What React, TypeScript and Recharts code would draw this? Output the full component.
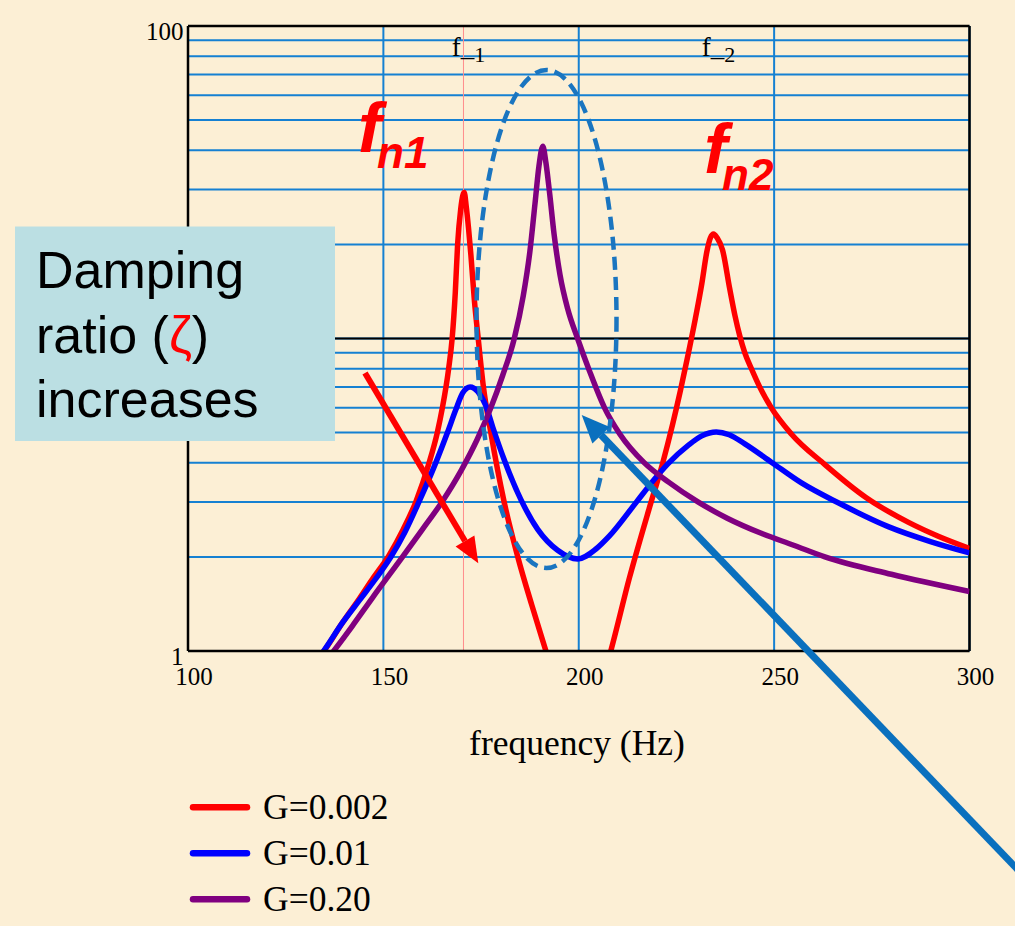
import React from 'react';
import { LineChart, Line, XAxis, YAxis, CartesianGrid, ReferenceLine, Legend } from 'recharts';

// ---------- data ----------
const xTicks = [100, 150, 200, 250, 300];
const yTicks = [1, 2, 3, 4, 5, 6, 7, 8, 9, 10, 20, 30, 40, 50, 60, 70, 80, 90, 100];
const yTickLabels = [1, 100];

const seriesNames = ['G=0.002', 'G=0.01', 'G=0.20'];
const seriesColors = ['#ff0000', '#0000ff', '#800080'];

// G=0.002
const redFreq = [132, 134.8, 139.5, 144, 147.5, 151.4, 155, 158.3, 161.7, 163.8, 165.1, 166.7, 167.6, 168.4, 169.0, 169.8, 170.3, 170.7, 171.2, 171.8, 172.4, 173.3, 174.2, 175.6, 177.5, 180.9, 184.4, 188, 191.6, 194,
  206, 208.2, 213, 218, 221.5, 224, 226, 228, 229.8, 231.5, 232.8, 233.7, 234.5, 235.4, 236.8, 238.6, 240, 241.2, 242.5, 244.2, 246.3, 249.3, 254.4, 263, 273.5, 284.4, 292, 300];
const redAmp = [0.9, 1.0, 1.23, 1.48, 1.72, 2.02, 2.44, 3, 4, 5, 6, 8, 10, 14, 20, 26, 28.6, 29.3, 26.5, 22.5, 18.5, 13.2, 10.2, 7, 5, 3, 2, 1.4, 1, 0.8,
  0.8, 1, 1.72, 2.85, 4, 5.3, 6.8, 8.9, 11.5, 15, 19, 21, 21.6, 21, 19.2, 14.5, 11.8, 10.2, 9, 8, 7, 6, 4.95, 3.95, 3.1, 2.58, 2.33, 2.13];

// G=0.01
const blueFreq = [132, 134.7, 139.5, 144, 148, 151.9, 155.5, 159.1, 163.4, 166.4, 168.5, 170.3, 172.2, 174.2, 176.2, 178, 180.9, 185.2, 189.5, 194.6, 199.7, 204.4, 207.8, 214.7, 219, 222.8, 228, 231.5, 235.2, 238.5, 242.5, 249.3, 257, 266.4, 279.2, 290, 300];
const blueAmp = [0.9, 1, 1.23, 1.46, 1.7, 2, 2.4, 3, 4, 5, 5.9, 6.7, 7.0, 6.75, 6.1, 5.2, 4.1, 3.05, 2.45, 2.1, 1.97, 2.12, 2.33, 2.99, 3.5, 3.97, 4.55, 4.88, 5.02, 4.92, 4.6, 4.02, 3.45, 2.98, 2.5, 2.24, 2.06];

// G=0.20
const purpleFreq = [134.5, 137.3, 142, 147.2, 154.9, 160, 165, 170, 174, 177.5, 180.5, 183.5, 185.8, 187.5, 188.8, 189.8, 190.8, 191.6, 192.5, 193.7, 195.2, 197.2, 199.7, 202.7, 206.6, 210.5, 216.8, 223, 230.5, 238, 246.7, 255, 263, 280, 300];
const purpleAmp = [0.9, 1, 1.2, 1.48, 2, 2.45, 3, 3.8, 4.75, 6, 7.6, 10, 13.7, 19, 27, 35.5, 41.2, 36.5, 29.5, 21.5, 16, 12.4, 10, 7.9, 6, 4.95, 4, 3.47, 3, 2.66, 2.38, 2.18, 2, 1.76, 1.55];

const f1 = 170.5;

const toPoints = (fs: number[], vs: number[]) => fs.map((f, i) => ({ f, v: vs[i] }));
const seriesData = [toPoints(redFreq, redAmp), toPoints(blueFreq, blueAmp), toPoints(purpleFreq, purpleAmp)];

// ---------- styles ----------
const BG = '#fcefd5';
const GRID = '#1580d2';
const ANNOT_BLUE = '#0a70be';
const SERIF = '"Liberation Serif", "Times New Roman", serif';
const SANS = '"Liberation Sans", Arial, sans-serif';

const XTick = (props: any) => {
  const { x, y, payload } = props;
  return (
    <text x={x + 6} y={y + 26} textAnchor="middle" fontFamily={SERIF} fontSize={25} fill="#000">
      {payload.value}
    </text>
  );
};

const YTick = (props: any) => {
  const { x, y, payload } = props;
  if (!yTickLabels.includes(payload.value)) return null;
  return (
    <text x={x + 3.5} y={y + 14} textAnchor="end" fontFamily={SERIF} fontSize={25} fill="#000">
      {payload.value}
    </text>
  );
};

const LegendContent = (props: any) => {
  const payload = props.payload || [];
  return (
    <svg width={440} height={140} style={{ display: 'block', overflow: 'visible' }}>
      {payload.map((p: any, i: number) => (
        <g key={i}>
          <line x1={193} x2={247} y1={27.3 + 46 * i} y2={27.3 + 46 * i} stroke={p.color} strokeWidth={6.5} strokeLinecap="round" />
          <text x={263} y={38.5 + 46 * i} fontFamily={SERIF} fontSize={35.5} fill="#000">{p.value}</text>
        </g>
      ))}
    </svg>
  );
};

export default function App() {
  return (
    <div style={{ position: 'absolute', left: 0, top: 0, width: 1015, height: 926, background: BG, overflow: 'hidden' }}>
      <LineChart width={1015} height={926} margin={{ top: 26, right: 45.5, left: 127, bottom: 245 }}>
        <CartesianGrid stroke={GRID} strokeWidth={2} horizontalValues={yTicks} verticalValues={xTicks} />
        <XAxis
          dataKey="f"
          type="number"
          domain={[100, 300]}
          ticks={xTicks}
          interval={0}
          allowDataOverflow
          height={30}
          tickLine={false}
          axisLine={{ stroke: '#000', strokeWidth: 2.5 }}
          tick={<XTick />}
        />
        <YAxis
          dataKey="v"
          scale="log"
          domain={[1, 100]}
          ticks={yTicks}
          interval={0}
          allowDataOverflow
          width={61}
          tickLine={false}
          axisLine={{ stroke: '#000', strokeWidth: 2.5 }}
          tick={<YTick />}
        />
        <ReferenceLine x={f1} stroke="#ff8c8c" strokeWidth={1} />
        <ReferenceLine y={10} stroke="#000" strokeWidth={2} />
        <ReferenceLine y={100} stroke="#000" strokeWidth={2.5} />
        <ReferenceLine x={300} stroke="#000" strokeWidth={2.5} />
        {seriesData.map((d, i) => (
          <Line
            key={seriesNames[i]}
            data={d}
            dataKey="v"
            name={seriesNames[i]}
            type="monotone"
            stroke={seriesColors[i]}
            strokeWidth={5.5}
            dot={false}
            activeDot={false}
            isAnimationActive={false}
          />
        ))}
        <Legend
          layout="horizontal"
          verticalAlign="middle"
          align="center"
          wrapperStyle={{ left: 0, top: 780, width: 440, height: 140 }}
          content={<LegendContent />}
        />
      </LineChart>
      <svg width={1015} height={926} style={{ position: 'absolute', left: 0, top: 0, pointerEvents: 'none' }}>
        {/* f_1 / f_2 labels */}
        <text x={451.7} y={56} fontFamily={SERIF} fontSize={27} fill="#000">
          f_<tspan fontSize={22} dy={6}>1</tspan>
        </text>
        <text x={701.7} y={56} fontFamily={SERIF} fontSize={27} fill="#000">
          f_<tspan fontSize={22} dy={6}>2</tspan>
        </text>
        {/* fn labels */}
        <text x={358} y={151.7} fontFamily={SANS} fontWeight="bold" fontStyle="italic" fontSize={70} fill="#ff0000">f</text>
        <text x={377} y={168} fontFamily={SANS} fontWeight="bold" fontStyle="italic" fontSize={44} fill="#ff0000">n1</text>
        <text x={704} y={173} fontFamily={SANS} fontWeight="bold" fontStyle="italic" fontSize={70} fill="#ff0000">f</text>
        <text x={722} y={190} fontFamily={SANS} fontWeight="bold" fontStyle="italic" fontSize={44} fill="#ff0000">n2</text>
        {/* axis label */}
        <text x={577} y={755} textAnchor="middle" fontFamily={SERIF} fontSize={35.5} fill="#000">frequency (Hz)</text>
        {/* damping box */}
        <rect x={15} y={226.5} width={320} height={214.5} fill="#bbdfe3" />
        <text x={36} y={288} fontFamily={SANS} fontSize={52} fill="#000">Damping</text>
        <text x={36} y={353} fontFamily={SANS} fontSize={52} fill="#000">
          ratio (<tspan fill="#ff0000">ζ</tspan>)
        </text>
        <text x={36} y={417} fontFamily={SANS} fontSize={52} fill="#000">increases</text>
        {/* red arrow */}
        <line x1={365} y1={373} x2={465} y2={541} stroke="#ff0000" strokeWidth={6} />
        <polygon points="478.3,563.3 455.6,546.6 474.4,535.4" fill="#ff0000" />
        {/* dashed ellipse */}
        <ellipse cx={546.5} cy={319} rx={70} ry={249} fill="none" stroke="#1a75c0" strokeWidth={4.5} strokeDasharray="13 7" />
        {/* blue arrow */}
        <line x1={1020} y1={872} x2={601} y2={435} stroke={ANNOT_BLUE} strokeWidth={7} />
        <polygon points="581.7,415 592.4,443.5 609.8,426.9" fill={ANNOT_BLUE} />
      </svg>
    </div>
  );
}
